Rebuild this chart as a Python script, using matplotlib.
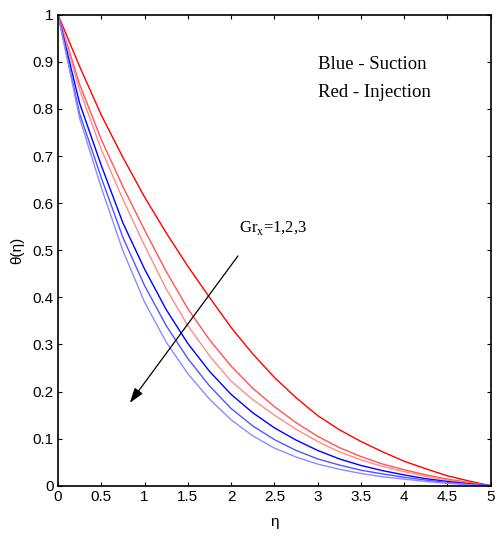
import matplotlib
matplotlib.use("Agg")
import matplotlib.pyplot as plt

# eta grid and temperature profiles theta(eta)
eta = [0, 0.25, 0.5, 0.75, 1.0, 1.25, 1.5, 1.75, 2.0, 2.25, 2.5,
       2.75, 3.0, 3.25, 3.5, 3.75, 4.0, 4.25, 4.5, 4.75, 5.0]

# injection (red), Gr_x = 1, 2, 3
red_gr1 = [1.0, 0.890, 0.787, 0.697, 0.613, 0.537, 0.466, 0.400, 0.336, 0.280, 0.230,
           0.187, 0.149, 0.119, 0.094, 0.072, 0.052, 0.036, 0.021, 0.010, 0.0]
red_gr2 = [1.0, 0.852, 0.735, 0.635, 0.543, 0.455, 0.376, 0.310, 0.254, 0.207, 0.168,
           0.134, 0.105, 0.081, 0.062, 0.046, 0.034, 0.023, 0.014, 0.007, 0.0]
red_gr3 = [1.0, 0.840, 0.714, 0.608, 0.510, 0.418, 0.340, 0.276, 0.222, 0.183, 0.150,
           0.120, 0.094, 0.072, 0.055, 0.041, 0.030, 0.020, 0.012, 0.005, 0.0]

# suction (blue), Gr_x = 1, 2, 3
blue_gr1 = [1.0, 0.812, 0.680, 0.558, 0.460, 0.374, 0.302, 0.243, 0.194, 0.155, 0.123,
            0.097, 0.075, 0.057, 0.043, 0.032, 0.023, 0.015, 0.009, 0.004, 0.0]
blue_gr2 = [1.0, 0.790, 0.654, 0.527, 0.425, 0.340, 0.270, 0.212, 0.164, 0.127, 0.098,
            0.075, 0.057, 0.044, 0.033, 0.025, 0.018, 0.012, 0.007, 0.003, 0.0]
blue_gr3 = [1.0, 0.780, 0.633, 0.499, 0.390, 0.305, 0.238, 0.184, 0.140, 0.106, 0.080,
            0.061, 0.046, 0.035, 0.026, 0.019, 0.014, 0.009, 0.005, 0.002, 0.0]

xticks = [0, 0.5, 1, 1.5, 2, 2.5, 3, 3.5, 4, 4.5, 5]
xtick_labels = ["0", "0.5", "1", "1.5", "2", "2.5", "3", "3.5", "4", "4.5", "5"]
yticks = [0, 0.1, 0.2, 0.3, 0.4, 0.5, 0.6, 0.7, 0.8, 0.9, 1]
ytick_labels = ["0", "0.1", "0.2", "0.3", "0.4", "0.5", "0.6", "0.7", "0.8", "0.9", "1"]

plt.rcParams["font.family"] = ["Liberation Sans Narrow", "Liberation Sans", "DejaVu Sans"]
plt.rcParams["mathtext.fontset"] = "custom"
plt.rcParams["mathtext.rm"] = "Liberation Serif"

fig = plt.figure(figsize=(4.97, 5.37), dpi=100)
ax = fig.add_axes([0.1167, 0.0955, 0.8706, 0.8771])

ax.plot(eta, red_gr1, color=(1.0, 0.0, 0.0), lw=1.0)
ax.plot(eta, red_gr2, color=(1.0, 0.33, 0.33), lw=1.0)
ax.plot(eta, red_gr3, color=(1.0, 0.55, 0.55), lw=1.0)
ax.plot(eta, blue_gr1, color=(0.0, 0.0, 1.0), lw=1.0)
ax.plot(eta, blue_gr2, color=(0.33, 0.33, 1.0), lw=1.0)
ax.plot(eta, blue_gr3, color=(0.55, 0.55, 1.0), lw=1.0)

ax.set_xlim(0, 5)
ax.set_ylim(0, 1)
ax.set_xticks(xticks)
ax.set_xticklabels(xtick_labels)
ax.set_yticks(yticks)
ax.set_yticklabels(ytick_labels)
ax.tick_params(direction="in", top=True, right=True, length=3, width=0.8,
               labelsize=11, pad=3)
for sp in ax.spines.values():
    sp.set_linewidth(1.2)

ax.set_xlabel("\u03b7", fontsize=11, labelpad=8)
ax.set_ylabel("\u03b8(\u03b7)", fontsize=11, labelpad=6)

serif = ["Liberation Serif", "DejaVu Serif"]
ax.text(3.0, 0.884, "Blue - Suction", family=serif, fontsize=13.5)
ax.text(3.0, 0.825, "Red - Injection", family=serif, fontsize=13.5)
ax.text(2.09, 0.539, r"Gr$_{\mathrm{x}}$=1,2,3", family=serif, fontsize=12)

ax.annotate("", xy=(0.83, 0.176), xytext=(2.08, 0.488),
            arrowprops=dict(arrowstyle="-|>,head_length=0.9,head_width=0.3",
                            color="black", lw=0.9, shrinkA=0, shrinkB=0))

plt.savefig("out.png", dpi=100)
